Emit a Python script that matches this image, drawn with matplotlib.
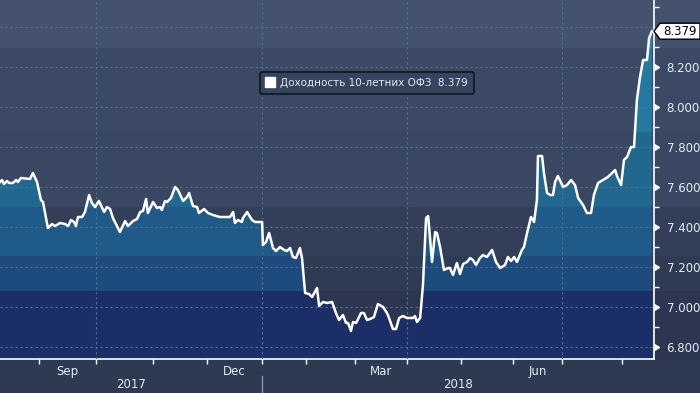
import numpy as np
import matplotlib
matplotlib.use("Agg")
import matplotlib.pyplot as plt
from matplotlib.lines import Line2D
from matplotlib.patches import Polygon

# ---- data (x = trading-session index, y = yield %) ----
day = [0.0, 0.8, 1.5, 2.7, 3.5, 5.0, 6.2, 6.9, 8.1, 11.6, 12.7, 14.3, 15.8, 16.6, 18.5, 20.1,
       21.2, 23.2, 25.1, 26.3, 27.4, 28.6, 29.3, 30.1, 31.7, 32.8, 34.4, 35.5, 36.7, 38.2, 40.2,
       41.3, 42.5, 43.6, 46.3, 48.3, 49.4, 51.4, 52.9, 54.1, 55.2, 56.4, 57.1, 59.1, 60.6, 61.8,
       62.5, 63.7, 64.5, 66.0, 67.6, 68.7, 70.7, 72.2, 73.0, 74.5, 76.1, 76.8, 78.8, 80.3, 82.2,
       84.9, 88.8, 90.0, 90.7, 91.9, 93.4, 93.8, 95.4, 97.3, 98.5, 101.2, 101.5, 102.7, 103.9,
       105.4, 106.6, 108.1, 109.7, 110.8, 112.0, 113.1, 114.3, 115.8, 116.6, 117.8, 119.3, 120.5,
       122.4, 123.2, 124.7, 126.3, 128.2, 129.7, 130.9, 132.4, 133.6, 134.4, 135.5, 136.3, 137.5,
       139.4, 140.5, 141.7, 142.9, 144.4, 145.9, 147.9, 149.4, 150.2, 151.7, 152.9, 154.1, 155.6,
       157.1, 159.5, 160.2, 161.0, 162.2, 163.3, 164.5, 165.3, 166.8, 168.0, 168.7, 169.9, 171.4,
       173.0, 173.7, 174.9, 176.4, 177.6, 178.8, 180.3, 181.5, 182.6, 183.8, 185.3, 186.5, 188.0,
       190.0, 191.5, 193.1, 195.0, 196.1, 197.3, 198.5, 199.6, 201.5, 202.3, 203.5, 205.0, 206.2,
       207.3, 207.7, 209.3, 210.0, 211.2, 212.4, 213.5, 214.3, 215.4, 217.4, 218.9, 220.5, 222.0,
       223.2, 225.1, 226.6, 228.2, 229.3, 230.9, 232.8, 234.7, 236.3, 237.5, 238.2, 239.8, 240.9,
       242.1, 243.6, 244.8, 245.9, 247.1, 248.3, 249.8, 250.6, 251.7]
yld = [7.625, 7.635, 7.615, 7.63, 7.62, 7.62, 7.635, 7.625, 7.645, 7.64, 7.67, 7.625, 7.535,
       7.525, 7.395, 7.415, 7.405, 7.42, 7.415, 7.405, 7.435, 7.425, 7.405, 7.45, 7.45, 7.475,
       7.56, 7.52, 7.5, 7.53, 7.475, 7.5, 7.49, 7.445, 7.375, 7.43, 7.405, 7.43, 7.44, 7.475,
       7.48, 7.54, 7.47, 7.525, 7.495, 7.5, 7.485, 7.53, 7.525, 7.545, 7.6, 7.585, 7.53, 7.55,
       7.57, 7.505, 7.5, 7.47, 7.49, 7.47, 7.46, 7.45, 7.45, 7.475, 7.42, 7.435, 7.425, 7.445,
       7.475, 7.435, 7.425, 7.425, 7.31, 7.325, 7.37, 7.295, 7.28, 7.3, 7.285, 7.28, 7.295,
       7.25, 7.245, 7.295, 7.245, 7.07, 7.065, 7.05, 7.095, 7.005, 7.025, 7.02, 7.025, 6.97,
       6.935, 6.96, 6.92, 6.92, 6.88, 6.925, 6.92, 6.97, 6.97, 6.935, 6.94, 6.95, 7.015, 7.0,
       6.97, 6.945, 6.89, 6.89, 6.945, 6.955, 6.945, 6.945, 6.955, 6.925, 6.945, 7.11, 7.445,
       7.455, 7.225, 7.375, 7.37, 7.3, 7.185, 7.195, 7.195, 7.16, 7.22, 7.165, 7.215, 7.225,
       7.245, 7.235, 7.21, 7.245, 7.26, 7.25, 7.285, 7.225, 7.195, 7.21, 7.25, 7.23, 7.25,
       7.225, 7.285, 7.3, 7.37, 7.45, 7.425, 7.535, 7.755, 7.755, 7.67, 7.57, 7.56, 7.56, 7.625,
       7.655, 7.6, 7.61, 7.635, 7.61, 7.545, 7.51, 7.47, 7.47, 7.56, 7.62, 7.635, 7.65, 7.67,
       7.685, 7.655, 7.61, 7.735, 7.75, 7.8, 7.8, 8.035, 8.15, 8.235, 8.235, 8.345, 8.379]

month_starts = [15, 37, 59, 80, 101, 118, 137, 157, 178, 198, 217, 240]   # Sep 2017 .. Aug 2018
month_labels = ["Sep", "Dec", "Mar", "Jun"]
month_label_idx = [0, 3, 6, 9]
quarter_starts = [37, 101, 157, 217]
year_labels = ["2017", "2018"]
year_start = 101
y_ticks = [6.8, 7.0, 7.2, 7.4, 7.6, 7.8, 8.0, 8.2, 8.4]
y_tick_labels = ["6.800", "7.000", "7.200", "7.400", "7.600", "7.800", "8.000", "8.200", ""]
series_name = "Доходность 10-летних ОФЗ"
last_value = 8.379

# ---- styling ----
W, H = 700, 393
YMIN, YMAX = 6.74, 8.535
XMAX = 252.5
band_edges = [6.74, 7.08, 7.255, 7.5, 7.875, 8.295, 8.535]
bg_colors = ["#2c3650", "#2f3a53", "#333f58", "#3a4762", "#3c4964", "#44526e"]
fill_colors = ["#1b2e67", "#1d4b7d", "#1f5a88", "#21688f", "#2579a0", "#2a8db0"]

fig = plt.figure(figsize=(W / 100, H / 100), dpi=100, facecolor="#2e3a52")
ax_h = 359 / H
ax_b = 1 - ax_h

bg = fig.add_axes([0, ax_b, 1, ax_h], zorder=-1)
bg.set_xlim(0, 1)
bg.set_ylim(YMIN, YMAX)
for lo, hi, c in zip(band_edges[:-1], band_edges[1:], bg_colors):
    bg.axhspan(lo, hi, color=c, lw=0)
bg.axis("off")

ax = fig.add_axes([0, ax_b, 654 / W, ax_h])
ax.set_facecolor("none")
ax.set_xlim(0, XMAX)
ax.set_ylim(YMIN, YMAX)

x = np.array(day)
y = np.array(yld)
poly = ax.fill_between(x, y, YMIN, facecolor="none", edgecolor="none")
clip = poly.get_paths()[0]
for lo, hi, c in zip(band_edges[:-1], band_edges[1:], fill_colors):
    r = ax.axhspan(lo, hi, color=c, lw=0, zorder=1)
    r.set_clip_path(clip, ax.transData)

grid_c = "#56718f"
for v in y_ticks:
    ax.axhline(v, color=grid_c, lw=0.8, ls=(0, (2, 2.5)), zorder=3)
for q in quarter_starts:
    ax.axvline(q, color=grid_c, lw=0.8, ls=(0, (2, 2.5)), zorder=3)

ax.plot(x, y, color="white", lw=1.8, zorder=5, solid_joinstyle="round")

# spines
for s in ["top", "left"]:
    ax.spines[s].set_visible(False)
for s in ["right", "bottom"]:
    ax.spines[s].set_color("white")
    ax.spines[s].set_linewidth(1.2)

# y axis on right
ax.yaxis.tick_right()
ax.set_yticks(y_ticks)
ax.set_yticklabels(y_tick_labels)
ax.set_yticks(np.arange(6.9, 8.55, 0.2), minor=True)
ax.tick_params(axis="y", which="major", length=0, pad=9, labelsize=8.5, labelcolor="#e4ecf6")
ax.tick_params(axis="y", which="minor", length=3.5, width=1, color="white", direction="out")
ax.plot(np.ones(len(y_ticks) - 1), y_ticks[:-1], transform=ax.get_yaxis_transform(),
        marker=9, ms=5, color="white", ls="none", clip_on=False, zorder=6)

# x axis
ax.set_xticks(month_starts)
ax.set_xticklabels([""] * len(month_starts))
mids = [(month_starts[i] + month_starts[i + 1]) / 2 for i in month_label_idx]
ax.set_xticks(mids, minor=True)
ax.set_xticklabels(month_labels, minor=True)
ax.tick_params(axis="x", which="major", length=3.5, width=1, color="white", direction="out")
ax.tick_params(axis="x", which="minor", length=0, pad=4, labelsize=8.5, labelcolor="#e4ecf6")

ax.text(year_start / 2, -0.072, year_labels[0], transform=ax.get_xaxis_transform(),
        ha="center", va="center", fontsize=8.5, color="#e4ecf6")
ax.text((year_start + XMAX) / 2, -0.072, year_labels[1], transform=ax.get_xaxis_transform(),
        ha="center", va="center", fontsize=8.5, color="#e4ecf6")
ax.plot([year_start, year_start], [-0.047, -0.1], transform=ax.get_xaxis_transform(),
        color="#8a94a6", lw=1, clip_on=False)

# legend
h = Line2D([], [], marker="s", ms=7, color="white", ls="none")
leg = ax.legend([h], [f"{series_name}  {last_value:.3f}"], loc="center",
                bbox_to_anchor=(0.561, 0.769), fontsize=7.5, frameon=True,
                handlelength=0.9, handletextpad=0.5, borderpad=0.55, fancybox=True)
leg.get_frame().set_facecolor("#36435e")
leg.get_frame().set_edgecolor("#12151b")
leg.get_frame().set_linewidth(1.2)
leg.get_frame().set_alpha(1)
for t in leg.get_texts():
    t.set_color("#e2e9f2")
leg.set_zorder(10)

# last value callout
yc = ax.transData.transform((x[-1], y[-1]))[1]
xr = ax.transAxes.transform((1, 0))[0]
verts = [(xr, yc), (xr + 6, yc + 8), (W, yc + 8), (W, yc - 8), (xr + 6, yc - 8)]
fig.patches.append(Polygon(verts, closed=True, facecolor="white", edgecolor="black",
                           lw=1, transform=None, zorder=20))
fig.text(680 / W, yc / H, f"{last_value:.3f}", ha="center", va="center",
         fontsize=8.5, color="black", zorder=21)

fig.savefig("out.png", dpi=100, facecolor=fig.get_facecolor())
